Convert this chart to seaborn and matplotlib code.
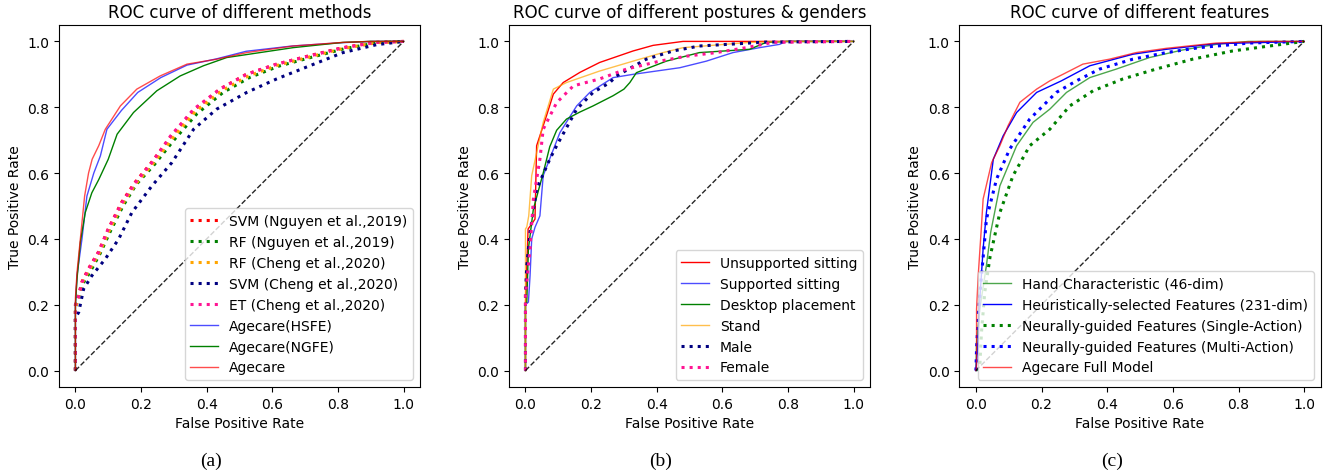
import matplotlib
matplotlib.use("Agg")
import matplotlib.pyplot as plt
import seaborn as sns

plt.rcParams["font.family"] = ["DejaVu Sans"]

# ---- chance line ----
diag = [0.0, 1.0]

# ---- (a) ROC curve of different methods ----
svm_nguyen_fpr = [0, 0.0, 0.005, 0.02, 0.04, 0.07, 0.10, 0.14, 0.18, 0.23, 0.29, 0.36, 0.44, 0.52, 0.61, 0.71, 0.81, 0.91, 1.0]
svm_nguyen_tpr = [0, 0.20, 0.21, 0.27, 0.31, 0.36, 0.43, 0.51, 0.57, 0.63, 0.71, 0.79, 0.855, 0.90, 0.93, 0.956, 0.98, 0.997, 1.0]
rf_nguyen_fpr = [0, 0.0, 0.006, 0.02, 0.045, 0.075, 0.105, 0.145, 0.185, 0.24, 0.30, 0.37, 0.45, 0.53, 0.62, 0.72, 0.82, 0.92, 1.0]
rf_nguyen_tpr = [0, 0.19, 0.21, 0.26, 0.30, 0.355, 0.42, 0.50, 0.565, 0.625, 0.70, 0.78, 0.845, 0.89, 0.925, 0.952, 0.978, 0.996, 1.0]
rf_cheng_fpr = [0, 0.0, 0.006, 0.02, 0.042, 0.073, 0.103, 0.143, 0.184, 0.236, 0.297, 0.365, 0.445, 0.527, 0.617, 0.717, 0.817, 0.918, 1.0]
rf_cheng_tpr = [0, 0.19, 0.21, 0.265, 0.305, 0.357, 0.425, 0.505, 0.567, 0.628, 0.707, 0.787, 0.85, 0.895, 0.928, 0.954, 0.979, 0.996, 1.0]
svm_cheng_fpr = [0, 0.0, 0.01, 0.025, 0.05, 0.091, 0.132, 0.172, 0.233, 0.294, 0.36, 0.43, 0.522, 0.613, 0.714, 0.815, 0.917, 1.0]
svm_cheng_tpr = [0, 0.16, 0.177, 0.248, 0.288, 0.339, 0.40, 0.48, 0.561, 0.632, 0.733, 0.794, 0.845, 0.886, 0.926, 0.966, 0.99, 1.0]
et_cheng_fpr = [0, 0.0, 0.005, 0.02, 0.04, 0.071, 0.10, 0.142, 0.182, 0.233, 0.29, 0.36, 0.44, 0.522, 0.613, 0.714, 0.815, 0.917, 1.0]
et_cheng_tpr = [0, 0.20, 0.208, 0.268, 0.308, 0.36, 0.43, 0.51, 0.57, 0.632, 0.713, 0.794, 0.855, 0.90, 0.931, 0.956, 0.981, 0.997, 1.0]
hsfe_fpr = [0, 0.0, 0.005, 0.02, 0.035, 0.056, 0.076, 0.096, 0.14, 0.19, 0.26, 0.34, 0.43, 0.52, 0.66, 0.81, 0.9, 1.0]
hsfe_tpr = [0, 0.20, 0.29, 0.40, 0.53, 0.60, 0.652, 0.733, 0.79, 0.845, 0.89, 0.928, 0.947, 0.97, 0.986, 0.996, 1.0, 1.0]
ngfe_fpr = [0, 0.0, 0.005, 0.015, 0.03, 0.05, 0.071, 0.10, 0.127, 0.177, 0.248, 0.319, 0.39, 0.461, 0.562, 0.663, 0.815, 0.9, 1.0]
ngfe_tpr = [0, 0.20, 0.28, 0.39, 0.48, 0.54, 0.58, 0.642, 0.718, 0.784, 0.85, 0.895, 0.926, 0.951, 0.966, 0.981, 0.997, 1.0, 1.0]
agecare_fpr = [0, 0.0, 0.005, 0.015, 0.028, 0.04, 0.051, 0.071, 0.091, 0.137, 0.187, 0.258, 0.34, 0.431, 0.522, 0.663, 0.815, 0.9, 1.0]
agecare_tpr = [0, 0.22, 0.30, 0.40, 0.53, 0.60, 0.642, 0.683, 0.733, 0.804, 0.855, 0.895, 0.931, 0.946, 0.966, 0.986, 0.997, 1.0, 1.0]

# ---- (b) ROC curve of different postures & genders ----
unsup_fpr = [0, 0.0, 0.008, 0.029, 0.034, 0.064, 0.085, 0.115, 0.166, 0.226, 0.328, 0.389, 0.48, 1.0]
unsup_tpr = [0, 0.20, 0.43, 0.46, 0.683, 0.774, 0.84, 0.875, 0.906, 0.936, 0.971, 0.988, 1.0, 1.0]
sup_fpr = [0, 0.0, 0.009, 0.014, 0.019, 0.029, 0.044, 0.054, 0.105, 0.156, 0.196, 0.267, 0.328, 0.47, 0.551, 0.632, 0.713, 0.774, 0.794, 1.0]
sup_tpr = [0, 0.20, 0.208, 0.288, 0.40, 0.435, 0.47, 0.592, 0.723, 0.804, 0.845, 0.89, 0.90, 0.92, 0.94, 0.966, 0.981, 0.991, 1.0, 1.0]
desk_fpr = [0, 0.0, 0.004, 0.009, 0.024, 0.054, 0.074, 0.095, 0.125, 0.165, 0.206, 0.267, 0.30, 0.318, 0.338, 0.429, 0.53, 0.683, 0.733, 0.8, 1.0]
desk_tpr = [0, 0.20, 0.208, 0.37, 0.49, 0.60, 0.68, 0.73, 0.764, 0.785, 0.804, 0.835, 0.855, 0.875, 0.905, 0.94, 0.966, 0.976, 0.997, 1.0, 1.0]
stand_fpr = [0, 0.0, 0.004, 0.01, 0.019, 0.054, 0.085, 0.125, 0.226, 0.348, 0.419, 0.48, 0.683, 0.8, 1.0]
stand_tpr = [0, 0.43, 0.436, 0.47, 0.592, 0.754, 0.855, 0.875, 0.91, 0.946, 0.966, 0.981, 0.997, 1.0, 1.0]
male_fpr = [0, 0.0, 0.004, 0.014, 0.034, 0.074, 0.095, 0.156, 0.206, 0.257, 0.277, 0.368, 0.45, 0.53, 0.733, 1.0]
male_tpr = [0, 0.23, 0.319, 0.42, 0.551, 0.642, 0.683, 0.794, 0.845, 0.875, 0.895, 0.946, 0.971, 0.986, 0.998, 1.0]
female_fpr = [0, 0.0, 0.014, 0.024, 0.044, 0.054, 0.095, 0.146, 0.226, 0.308, 0.409, 0.49, 0.581, 0.672, 0.753, 1.0]
female_tpr = [0, 0.23, 0.37, 0.52, 0.642, 0.733, 0.814, 0.865, 0.886, 0.916, 0.94, 0.955, 0.966, 0.981, 0.997, 1.0]

# ---- (c) ROC curve of different features ----
hand_fpr = [0, 0.002, 0.012, 0.032, 0.045, 0.073, 0.124, 0.174, 0.225, 0.276, 0.347, 0.428, 0.529, 0.63, 0.732, 0.83, 1.0]
hand_tpr = [0, 0.086, 0.187, 0.319, 0.42, 0.561, 0.683, 0.754, 0.794, 0.845, 0.89, 0.916, 0.951, 0.974, 0.991, 1.0, 1.0]
heur_fpr = [0, 0.007, 0.012, 0.022, 0.032, 0.053, 0.083, 0.124, 0.185, 0.26, 0.347, 0.478, 0.58, 0.73, 1.0]
heur_tpr = [0, 0.096, 0.218, 0.37, 0.48, 0.642, 0.713, 0.784, 0.845, 0.88, 0.926, 0.961, 0.976, 0.993, 1.0]
single_fpr = [0, 0.012, 0.017, 0.027, 0.043, 0.073, 0.113, 0.164, 0.225, 0.286, 0.357, 0.448, 0.549, 0.66, 0.782, 0.894, 1.0]
single_tpr = [0, 0.015, 0.116, 0.238, 0.345, 0.48, 0.592, 0.683, 0.733, 0.804, 0.85, 0.886, 0.916, 0.946, 0.971, 0.986, 1.0]
multi_fpr = [0, 0.002, 0.007, 0.017, 0.027, 0.032, 0.063, 0.103, 0.164, 0.245, 0.306, 0.377, 0.478, 0.58, 0.68, 0.833, 1.0]
multi_tpr = [0, 0.066, 0.167, 0.288, 0.40, 0.46, 0.582, 0.673, 0.764, 0.845, 0.88, 0.916, 0.946, 0.966, 0.981, 0.995, 1.0]
full_fpr = [0, 0.002, 0.002, 0.007, 0.017, 0.022, 0.048, 0.073, 0.098, 0.134, 0.185, 0.225, 0.265, 0.326, 0.407, 0.488, 0.58, 0.732, 0.875, 1.0]
full_tpr = [0, 0.015, 0.187, 0.288, 0.44, 0.521, 0.632, 0.683, 0.744, 0.815, 0.855, 0.88, 0.90, 0.931, 0.946, 0.966, 0.979, 0.995, 1.0, 1.0]


def curve(ax, fpr, tpr, label, color, dotted=False, alpha=1.0):
    sns.lineplot(x=fpr, y=tpr, ax=ax, sort=False, estimator=None, label=label,
                 color=color, alpha=alpha,
                 linestyle=":" if dotted else "-", linewidth=2.2 if dotted else 1)


def finish(ax, title):
    sns.lineplot(x=diag, y=diag, ax=ax, sort=False, estimator=None,
                 color="black", linestyle="--", linewidth=1, alpha=0.85)
    ax.set_title(title, fontsize=12)
    ax.set_xlabel("False Positive Rate")
    ax.set_ylabel("True Positive Rate")
    ax.set_xticks([0, 0.2, 0.4, 0.6, 0.8, 1.0])
    ax.set_yticks([0, 0.2, 0.4, 0.6, 0.8, 1.0])
    ax.set_xlim(-0.05, 1.05)
    ax.set_ylim(-0.05, 1.05)
    ax.legend(loc="lower right", fontsize=10)


fig = plt.figure(figsize=(13.26, 4.77), dpi=100)
ax_a = fig.add_axes([0.0445, 0.1866, 0.2723, 0.759])
ax_b = fig.add_axes([0.3839, 0.1866, 0.2723, 0.759])
ax_c = fig.add_axes([0.7236, 0.1866, 0.2723, 0.759])

# (a)
curve(ax_a, svm_nguyen_fpr, svm_nguyen_tpr, "SVM (Nguyen et al.,2019)", "red", dotted=True)
curve(ax_a, rf_nguyen_fpr, rf_nguyen_tpr, "RF (Nguyen et al.,2019)", "green", dotted=True)
curve(ax_a, rf_cheng_fpr, rf_cheng_tpr, "RF (Cheng et al.,2020)", "orange", dotted=True)
curve(ax_a, svm_cheng_fpr, svm_cheng_tpr, "SVM (Cheng et al.,2020)", "navy", dotted=True)
curve(ax_a, et_cheng_fpr, et_cheng_tpr, "ET (Cheng et al.,2020)", "deeppink", dotted=True)
curve(ax_a, hsfe_fpr, hsfe_tpr, "Agecare(HSFE)", "blue", alpha=0.7)
curve(ax_a, ngfe_fpr, ngfe_tpr, "Agecare(NGFE)", "green")
curve(ax_a, agecare_fpr, agecare_tpr, "Agecare", "red", alpha=0.7)
finish(ax_a, "ROC curve of different methods")

# (b)
curve(ax_b, unsup_fpr, unsup_tpr, "Unsupported sitting", "red")
curve(ax_b, sup_fpr, sup_tpr, "Supported sitting", "blue", alpha=0.7)
curve(ax_b, desk_fpr, desk_tpr, "Desktop placement", "green")
curve(ax_b, stand_fpr, stand_tpr, "Stand", "orange", alpha=0.7)
curve(ax_b, male_fpr, male_tpr, "Male", "navy", dotted=True)
curve(ax_b, female_fpr, female_tpr, "Female", "deeppink", dotted=True)
finish(ax_b, "ROC curve of different postures & genders")

# (c)
curve(ax_c, hand_fpr, hand_tpr, "Hand Characteristic (46-dim)", "green", alpha=0.7)
curve(ax_c, heur_fpr, heur_tpr, "Heuristically-selected Features (231-dim)", "blue")
curve(ax_c, single_fpr, single_tpr, "Neurally-guided Features (Single-Action)", "green", dotted=True)
curve(ax_c, multi_fpr, multi_tpr, "Neurally-guided Features (Multi-Action)", "blue", dotted=True)
curve(ax_c, full_fpr, full_tpr, "Agecare Full Model", "red", alpha=0.7)
finish(ax_c, "ROC curve of different features")

# sub-figure captions
for xpos, cap in [(211, "(a)"), (661, "(b)"), (1112, "(c)")]:
    fig.text(xpos / 1326, 1 - 461 / 477, cap, ha="center", va="center",
             fontsize=14, family="Liberation Serif")

fig.savefig("out.png", dpi=100)
plt.close(fig)
